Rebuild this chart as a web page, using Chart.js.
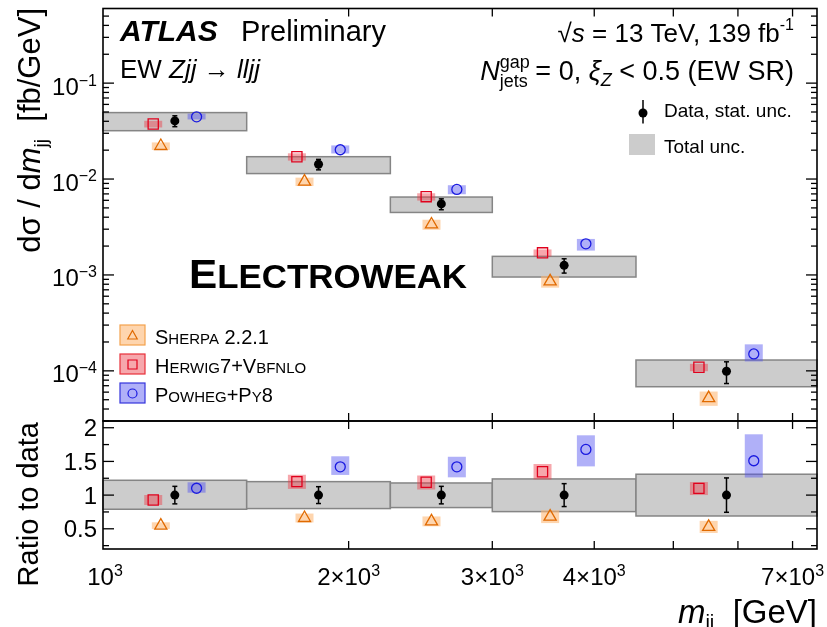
<!DOCTYPE html>
<html>
<head>
<meta charset="utf-8">
<script src="https://cdn.jsdelivr.net/npm/chart.js@4.4.0/dist/chart.umd.min.js"></script>
<style>
  html, body { margin: 0; padding: 0; background: #fff; }
  #wrap { position: relative; width: 827px; height: 627px; }
  #wrap canvas { position: absolute; left: 0; top: 0; }
</style>
</head>
<body>
<div id="wrap">
  <canvas id="mainChart" width="827" height="627"></canvas>
  <canvas id="ratioChart" width="827" height="627"></canvas>
</div>
<script>
// m_jj bin edges [GeV]
const binEdges = [1000, 1500, 2250, 3000, 4500, 7500];

// measured cross section [fb/GeV] and relative uncertainties
const dataXs = [0.0404, 0.01425, 0.0055, 0.00126, 0.000099];
const statUnc = [0.13, 0.125, 0.13, 0.17, 0.255];
const totUp = [0.22, 0.20, 0.18, 0.24, 0.31];
const totDown = [0.21, 0.20, 0.185, 0.245, 0.31];

// predictions [fb/GeV]
const sherpaXs = [0.0221, 0.0094, 0.00336, 0.000857, 0.000052];
const herwigXs = [0.0375, 0.0171, 0.00655, 0.0017, 0.000109];
const powhegXs = [0.0445, 0.0202, 0.0078, 0.00211, 0.00015];

// predictions / data
const sherpaRatio = [0.547, 0.66, 0.61, 0.68, 0.528];
const herwigRatio = [0.927, 1.20, 1.19, 1.347, 1.10];
const powhegRatio = [1.102, 1.42, 1.42, 1.678, 1.51];

// relative theory uncertainties
const sherpaUp = [0.09, 0.10, 0.12, 0.14, 0.17];
const sherpaDown = [0.09, 0.10, 0.12, 0.14, 0.17];
const herwigUp = [0.08, 0.085, 0.085, 0.085, 0.085];
const herwigDown = [0.08, 0.09, 0.09, 0.085, 0.09];
const powhegUp = [0.08, 0.11, 0.105, 0.125, 0.26];
const powhegDown = [0.06, 0.085, 0.11, 0.15, 0.165];

const modelNames = ['Sherpa 2.2.1', 'Herwig7+Vbfnlo', 'Powheg+Py8'];

// axis ticks
const xTickValues = [1000, 2000, 3000, 4000, 7000];
const xTickLabels = ['10^3', '2\u00d710^3', '3\u00d710^3', '4\u00d710^3', '7\u00d710^3'];
const yTickValues = [1e-4, 1e-3, 1e-2, 1e-1];
const yTickLabels = ['10^\u22124', '10^\u22123', '10^\u22122', '10^\u22121'];
const ratioTickValues = [0.5, 1, 1.5, 2];
const ratioTickLabels = ['0.5', '1', '1.5', '2'];

const FONT = '"Liberation Sans", Arial, Helvetica, sans-serif';

const models = [
    { name: modelNames[0], xs: sherpaXs, ratio: sherpaRatio, up: sherpaUp, dn: sherpaDown,
      shift: -0.095, style: 'triangle', radius: 7, line: '#e06a00',
      band: 'rgba(253,185,120,0.6)', legBorder: '#f4a24e' },
    { name: modelNames[1], xs: herwigXs, ratio: herwigRatio, up: herwigUp, dn: herwigDown,
      shift: -0.145, style: 'rect', radius: 7.2, line: '#e0001c',
      band: 'rgba(236,60,72,0.45)', legBorder: '#e8303a' },
    { name: modelNames[2], xs: powhegXs, ratio: powhegRatio, up: powhegUp, dn: powhegDown,
      shift: 0.155, style: 'circle', radius: 5, line: '#1a1ae0',
      band: 'rgba(80,80,240,0.45)', legBorder: '#3434dc' }
];

function markerX(i, frac) {
    const lo = binEdges[i], hi = binEdges[i + 1];
    return Math.sqrt(lo * hi) + frac * (hi - lo);
}

function fontOf(r) {
    return (r.style || '') + ' ' + r.size + 'px ' + FONT;
}

function drawRuns(ctx, runs, x, y, align) {
    let total = 0;
    runs.forEach(r => {
        ctx.font = fontOf(r);
        r.w = ctx.measureText(r.t).width;
        if (!r.stack) total += r.w;
    });
    let cx = align === 'right' ? x - total : align === 'center' ? x - total / 2 : x;
    ctx.textAlign = 'left';
    ctx.textBaseline = 'alphabetic';
    runs.forEach(r => {
        ctx.font = fontOf(r);
        ctx.fillText(r.t, cx, y + (r.dy || 0));
        if (!r.stack) cx += r.w;
    });
    return total;
}

// '10^3' -> base + superscript
function supRuns(label, size) {
    const p = label.split('^');
    const runs = [{ t: p[0], size: size }];
    if (p[1]) runs.push({ t: p[1], size: Math.round(size * 0.66), dy: -size * 0.38 });
    return runs;
}

// lower case letters become small capitals
function smallCapsRuns(text, big, small, style) {
    const runs = [];
    for (const ch of text) {
        const isSmall = ch >= 'a' && ch <= 'z';
        const size = isSmall ? small : big;
        const last = runs[runs.length - 1];
        if (last && last.size === size) last.t += ch.toUpperCase();
        else runs.push({ t: ch.toUpperCase(), size: size, style: style });
    }
    return runs;
}

function line(ctx, x1, y1, x2, y2) {
    ctx.beginPath();
    ctx.moveTo(x1, y1);
    ctx.lineTo(x2, y2);
    ctx.stroke();
}

function marker(ctx, style, x, y, r) {
    ctx.beginPath();
    if (style === 'circle') {
        ctx.arc(x, y, r, 0, Math.PI * 2);
    } else if (style === 'rect') {
        ctx.rect(x - r, y - r, 2 * r, 2 * r);
    } else {
        ctx.moveTo(x, y - r);
        ctx.lineTo(x + r * 0.95, y + r * 0.7);
        ctx.lineTo(x - r * 0.95, y + r * 0.7);
        ctx.closePath();
    }
    ctx.stroke();
}

function drawXTicks(ctx, chart) {
    const a = chart.chartArea, xs = chart.scales.x;
    for (let m = 1; m <= 9; m++) {
        const v = m * 1000;
        if (v <= xs.min || v >= xs.max) continue;
        const x = xs.getPixelForValue(v);
        line(ctx, x, a.top, x, a.top + 8);
        line(ctx, x, a.bottom, x, a.bottom - 8);
    }
}

// boxes, bands and error bars, drawn under the markers
function bandPlugin(isRatio) {
    return {
        id: 'bands',
        beforeDatasetsDraw(chart) {
            const ctx = chart.ctx, xs = chart.scales.x, ys = chart.scales.y;
            const px = v => xs.getPixelForValue(v), py = v => ys.getPixelForValue(v);
            ctx.save();
            for (let i = 0; i < dataXs.length; i++) {
                const ref = isRatio ? 1 : dataXs[i];
                const x0 = px(binEdges[i]), x1 = px(binEdges[i + 1]);
                const yt = py(ref * (1 + totUp[i])), yb = py(ref * (1 - totDown[i]));
                ctx.fillStyle = '#cccccc';
                ctx.fillRect(x0, yt, x1 - x0, yb - yt);
                ctx.strokeStyle = '#858585';
                ctx.lineWidth = 1.5;
                ctx.strokeRect(x0, yt, x1 - x0, yb - yt);
            }
            models.forEach(m => {
                const vals = isRatio ? m.ratio : m.xs;
                ctx.fillStyle = m.band;
                for (let i = 0; i < vals.length; i++) {
                    const x = px(markerX(i, m.shift));
                    const yt = py(vals[i] * (1 + m.up[i])), yb = py(vals[i] * (1 - m.dn[i]));
                    ctx.fillRect(x - 9, yt, 18, yb - yt);
                }
            });
            ctx.strokeStyle = '#000';
            ctx.lineWidth = 1.5;
            for (let i = 0; i < dataXs.length; i++) {
                const ref = isRatio ? 1 : dataXs[i];
                const x = px(markerX(i, 0));
                const yt = py(ref * (1 + statUnc[i])), yb = py(ref * (1 - statUnc[i]));
                line(ctx, x, yt, x, yb);
                line(ctx, x - 2.5, yt, x + 2.5, yt);
                line(ctx, x - 2.5, yb, x + 2.5, yb);
            }
            ctx.restore();
        }
    };
}

const mainDecor = {
    id: 'mainDecor',
    afterDraw(chart) {
        const ctx = chart.ctx, a = chart.chartArea, ys = chart.scales.y;
        ctx.save();
        ctx.strokeStyle = '#000';
        ctx.fillStyle = '#000';
        ctx.lineWidth = 1.6;
        ctx.strokeRect(a.left, a.top, a.right - a.left, a.bottom - a.top);
        ctx.lineWidth = 1.3;
        for (let k = -5; k <= 0; k++) {
            for (let m = 1; m <= 9; m++) {
                const v = m * Math.pow(10, k);
                if (v < ys.min || v > ys.max) continue;
                const y = ys.getPixelForValue(v), len = m === 1 ? 11 : 6;
                line(ctx, a.left, y, a.left + len, y);
                line(ctx, a.right, y, a.right - len, y);
            }
        }
        drawXTicks(ctx, chart);

        yTickValues.forEach((v, i) => {
            drawRuns(ctx, supRuns(yTickLabels[i], 24), 97, ys.getPixelForValue(v) + 11.5, 'right');
        });

        // y title
        ctx.save();
        ctx.translate(40, 8);
        ctx.rotate(-Math.PI / 2);
        drawRuns(ctx, [
            { t: 'd\u03c3 / d', size: 31 },
            { t: 'm', size: 31, style: 'italic' },
            { t: 'jj', size: 19, dy: 7 },
            { t: '  [fb/GeV]', size: 31 }
        ], 0, 0, 'right');
        ctx.restore();

        // labels
        drawRuns(ctx, [{ t: 'ATLAS', size: 30, style: 'italic bold' }], 120, 41, 'left');
        drawRuns(ctx, [{ t: 'Preliminary', size: 29 }], 241, 41, 'left');
        drawRuns(ctx, [
            { t: 'EW ', size: 26 }, { t: 'Zjj', size: 26, style: 'italic' },
            { t: ' \u2192 ', size: 26 }, { t: 'lljj', size: 26, style: 'italic' }
        ], 120, 78, 'left');
        drawRuns(ctx, [
            { t: '\u221a', size: 26 }, { t: 's', size: 26, style: 'italic' },
            { t: ' = 13 TeV, 139 fb', size: 26 }, { t: '-1', size: 16, dy: -12 }
        ], 794, 42, 'right');
        drawRuns(ctx, [
            { t: 'N', size: 27, style: 'italic' },
            { t: 'gap', size: 18, dy: -12, stack: true },
            { t: 'jets', size: 18, dy: 7 },
            { t: ' = 0, ', size: 27 },
            { t: '\u03be', size: 27, style: 'italic' },
            { t: 'Z', size: 18, style: 'italic', dy: 6 },
            { t: ' < 0.5 (EW SR)', size: 27 }
        ], 794, 80, 'right');

        // data / total unc legend
        ctx.beginPath();
        ctx.arc(643, 113, 4.5, 0, Math.PI * 2);
        ctx.fill();
        ctx.lineWidth = 1.5;
        line(ctx, 643, 100, 643, 123.5);
        drawRuns(ctx, [{ t: 'Data, stat. unc.', size: 19 }], 664, 117, 'left');
        ctx.fillStyle = '#cccccc';
        ctx.fillRect(629, 134, 26, 21);
        ctx.fillStyle = '#000';
        drawRuns(ctx, [{ t: 'Total unc.', size: 19 }], 664, 153, 'left');

        // model legend
        const rows = [325, 354, 383];
        models.forEach((m, i) => {
            const y = rows[i];
            ctx.fillStyle = m.band;
            ctx.fillRect(120, y, 25, 20);
            ctx.strokeStyle = m.legBorder;
            ctx.lineWidth = 1.2;
            ctx.strokeRect(120, y, 25, 20);
            ctx.strokeStyle = m.line;
            ctx.lineWidth = 1.2;
            marker(ctx, m.style, 132.5, y + 10.5, m.style === 'triangle' ? 5 : 4.5);
            ctx.fillStyle = '#000';
            drawRuns(ctx, smallCapsRuns(m.name, 20, 15), 155, y + 18.5, 'left');
        });

        // big label
        ctx.fillStyle = '#000';
        const ew = smallCapsRuns('Electroweak', 40, 33, 'bold');
        let w = 0;
        ew.forEach(r => { ctx.font = fontOf(r); w += ctx.measureText(r.t).width; });
        ctx.save();
        ctx.translate(189, 288);
        ctx.scale(278 / w, 1);
        drawRuns(ctx, ew, 0, 0, 'left');
        ctx.restore();
        ctx.restore();
    }
};

const ratioDecor = {
    id: 'ratioDecor',
    afterDraw(chart) {
        const ctx = chart.ctx, a = chart.chartArea, xs = chart.scales.x, ys = chart.scales.y;
        ctx.save();
        ctx.strokeStyle = '#000';
        ctx.fillStyle = '#000';
        ctx.lineWidth = 1.6;
        ctx.strokeRect(a.left, a.top, a.right - a.left, a.bottom - a.top);
        ctx.lineWidth = 1.3;
        for (let v = 0.25; v < ys.max; v += 0.25) {
            if (v < ys.min) continue;
            const y = ys.getPixelForValue(v);
            const len = Math.abs(v * 2 - Math.round(v * 2)) < 1e-6 ? 11 : 6;
            line(ctx, a.left, y, a.left + len, y);
            line(ctx, a.right, y, a.right - len, y);
        }
        drawXTicks(ctx, chart);

        ratioTickValues.forEach((v, i) => {
            drawRuns(ctx, [{ t: ratioTickLabels[i], size: 24 }], 97, ys.getPixelForValue(v) + 8.5, 'right');
        });
        xTickValues.forEach((v, i) => {
            drawRuns(ctx, supRuns(xTickLabels[i], 24), xs.getPixelForValue(v) + (i === 0 ? 2 : 0), 585, 'center');
        });

        ctx.save();
        ctx.translate(38, 422);
        ctx.rotate(-Math.PI / 2);
        drawRuns(ctx, [{ t: 'Ratio to data', size: 29 }], 0, 0, 'right');
        ctx.restore();

        drawRuns(ctx, [
            { t: 'm', size: 33, style: 'italic' },
            { t: 'jj', size: 20, dy: 6 },
            { t: '  [GeV]', size: 33 }
        ], 817, 623, 'right');
        ctx.restore();
    }
};

function buildDatasets(isRatio) {
    const sets = [{
        data: dataXs.map((v, i) => ({ x: markerX(i, 0), y: isRatio ? 1 : v })),
        pointStyle: 'circle',
        pointRadius: 4.5,
        pointBackgroundColor: '#000',
        pointBorderColor: '#000',
        pointBorderWidth: 0
    }];
    models.forEach(m => {
        const vals = isRatio ? m.ratio : m.xs;
        sets.push({
            data: vals.map((v, i) => ({ x: markerX(i, m.shift), y: v })),
            pointStyle: m.style,
            pointRadius: m.radius,
            pointBackgroundColor: 'rgba(0,0,0,0)',
            pointBorderColor: m.line,
            pointBorderWidth: 1.3
        });
    });
    return sets;
}

function makeChart(id, isRatio) {
    const yScale = isRatio
        ? { type: 'linear', min: 0.2, max: 2.1, display: false }
        : { type: 'logarithmic', min: 3e-5, max: 0.6, display: false };
    return new Chart(document.getElementById(id), {
        type: 'scatter',
        data: { datasets: buildDatasets(isRatio) },
        options: {
            responsive: false,
            animation: false,
            events: [],
            layout: {
                padding: isRatio
                    ? { left: 103, right: 10, top: 421, bottom: 78 }
                    : { left: 103, right: 10, top: 8, bottom: 206 }
            },
            plugins: { legend: { display: false }, tooltip: { enabled: false } },
            scales: {
                x: { type: 'logarithmic', min: 1000, max: 7500, display: false },
                y: yScale
            }
        },
        plugins: [bandPlugin(isRatio), isRatio ? ratioDecor : mainDecor]
    });
}

makeChart('mainChart', false);
makeChart('ratioChart', true);
</script>
</body>
</html>
